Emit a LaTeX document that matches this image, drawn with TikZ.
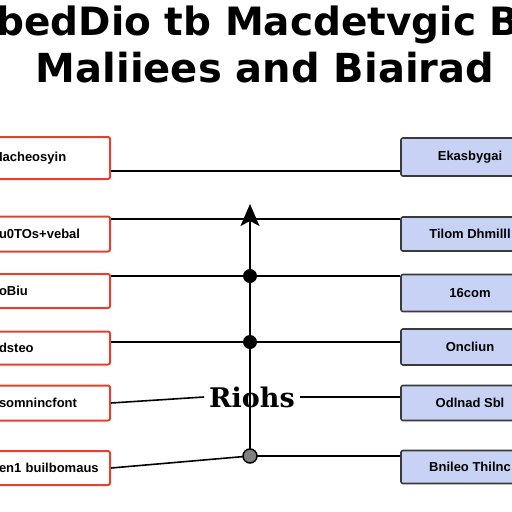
\documentclass[tikz,border=0pt]{standalone}
\usepackage{fontspec}
\setmainfont{Liberation Sans}
\newfontfamily\titlefont{DejaVu Sans}
\newfontfamily\busfont{DejaVu Serif}
\usetikzlibrary{arrows.meta,positioning}
\definecolor{boxred}{HTML}{E5402E}
\definecolor{boxblue}{HTML}{C8D2F4}
\definecolor{edgegray}{HTML}{3A3A3A}
\tikzset{
  lbox/.style={draw=boxred,line width=2pt,rounded corners=2pt,fill=white,minimum height=35pt,text width=105pt,align=left,inner xsep=6pt,font=\fontsize{13}{13}\selectfont\bfseries},
  rbox/.style={draw=edgegray,line width=1.6pt,rounded corners=2pt,fill=boxblue,minimum width=138pt,minimum height=35pt,align=center,font=\fontsize{13}{13}\selectfont\bfseries},
  wire/.style={line width=1.6pt,black},
  headline/.style={font=\titlefont\fontsize{40}{40}\selectfont\bfseries,anchor=base,inner sep=0pt}
}

\begin{document}
\begin{tikzpicture}[x=1pt,y=-1pt]
\useasboundingbox (0,0) rectangle (512,512);
\node[headline,font=\titlefont\fontsize{39}{39}\selectfont\bfseries] (title1) at (258,35) {bedDio tb Macdetvgic B};
\node[headline] (title2) at (265,82) {Maliiees and Biairad};
% left boxes
\node[lbox,minimum height=42pt] (l1) at (51.5,158) {Iacheosyin};
\node[lbox] (l2) at (51.5,234) {u0TOs+vebal};
\node[lbox,minimum height=34pt] (l3) at (51.5,291) {oBiu};
\node[lbox,minimum height=33pt] (l4) at (51.5,348) {dsteo};
\node[lbox] (l5) at (51.5,403) {somnincfont};
\node[lbox,minimum height=34pt] (l6) at (51.5,468) {en1 builbomaus};
% right boxes
\node[rbox,minimum height=38pt] (r1) at (470,157) {Ekasbygai};
\node[rbox,minimum height=34pt] (r2) at (470,234) {Tilom Dhmilll};
\node[rbox,minimum height=37pt] (r3) at (470,293) {16com};
\node[rbox,minimum height=36pt] (r4) at (470,347) {Oncliun};
\node[rbox] (r5) at (470,403) {Odlnad Sbl};
\node[rbox,minimum height=33pt] (r6) at (470,467) {Bnileo Thilnc};
% bus
\coordinate (j1) at (250,171);
\coordinate (j2) at (250,219);
\coordinate (j3) at (250,276);
\coordinate (j4) at (250,342);
\coordinate (j6) at (250,456);
\coordinate (tip) at (250,204);
\node[font=\busfont\fontsize{27}{27}\selectfont\bfseries,inner sep=5pt] (hub) at (252,397) {Riohs};
\draw[wire] (l1.east|-j1) -- (r1.west|-j1);
\draw[wire] (l2.east|-j2) -- (r2.west|-j2);
\draw[wire] (l3.east|-j3) -- (r3.west|-j3);
\draw[wire] (l4.east|-j4) -- (r4.west|-j4);
\draw[wire] (l5.east) -- (hub.west);
\draw[wire] (hub.east) -- (r5.west|-hub.east);
\draw[wire] (l6.east) -- (j6) -- (r6.west|-j6);
\draw[wire,line width=2pt,-{Stealth[length=22pt,width=19pt,inset=5pt]}] (j6) -- (tip);
\fill (j3) circle (7pt) (j4) circle (7pt);
\draw[fill=gray,line width=1.5pt] (j6) circle (7pt);
\end{tikzpicture}
\end{document}
